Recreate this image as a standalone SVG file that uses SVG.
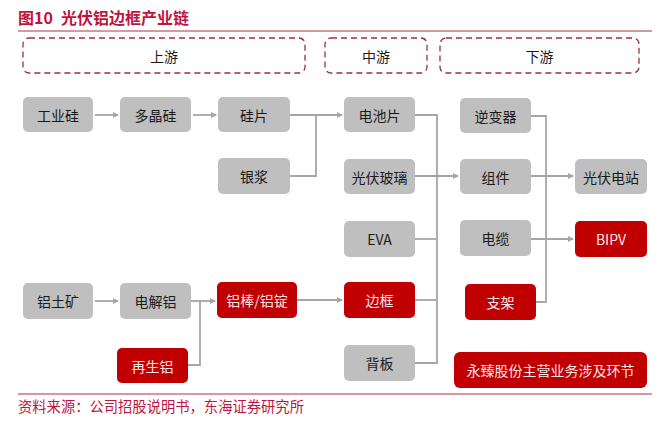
<svg xmlns="http://www.w3.org/2000/svg" width="664" height="423" viewBox="0 0 664 423">
<style>
text{font-family:"Noto Sans CJK SC","Liberation Sans",sans-serif;}
.g rect{fill:#bfbfbf;}
.r rect{fill:#c00000;}
.g text{fill:#1a1a1a;font-size:14px;text-anchor:middle;dominant-baseline:central;}
.r text{fill:#ffe6e6;font-size:14px;text-anchor:middle;dominant-baseline:central;}
.stage rect{fill:none;stroke:#9a3040;stroke-width:1.3;stroke-dasharray:6 4;}
.stage text{fill:#1a1a1a;font-size:14px;text-anchor:middle;dominant-baseline:central;}
#connectors path{fill:none;stroke:#a6a6a6;stroke-width:1.8;}
</style>
<defs>
<marker id="ah" markerWidth="6" markerHeight="6" refX="5" refY="3" orient="auto" markerUnits="userSpaceOnUse">
<path d="M0,0 L6,3 L0,6 z" fill="#a6a6a6"/>
</marker>
</defs>
<rect width="664" height="423" fill="#ffffff"/>
<text y="24" font-size="16" font-weight="bold" fill="#c0143c"><tspan x="18">图10</tspan><tspan x="61">光伏铝边框产业链</tspan></text>
<line x1="18" y1="31" x2="652" y2="31" stroke="#a83244" stroke-width="1"/>

<g id="stage-up" class="stage"><rect x="23" y="38" width="282" height="35" rx="6"/><text x="164" y="55.5">上游</text></g>
<g id="stage-mid" class="stage"><rect x="325" y="38" width="102" height="35" rx="6"/><text x="376" y="55.5">中游</text></g>
<g id="stage-down" class="stage"><rect x="440" y="38" width="199" height="35" rx="6"/><text x="539.5" y="55.5">下游</text></g>

<g id="connectors">
<path d="M95,115 H118" marker-end="url(#ah)"/>
<path d="M193,115 H216" marker-end="url(#ah)"/>
<path d="M290,115 H342" marker-end="url(#ah)"/>
<path d="M290,176 H316 V115"/>
<path d="M415,115 H437 V363 H415"/>
<path d="M415,176 H458" marker-end="url(#ah)"/>
<path d="M415,239 H437"/>
<path d="M415,300 H437"/>
<path d="M531,116 H546 V302 H536"/>
<path d="M531,176 H573" marker-end="url(#ah)"/>
<path d="M531,239 H573" marker-end="url(#ah)"/>
<path d="M95,301 H118" marker-end="url(#ah)"/>
<path d="M191,301 H215" marker-end="url(#ah)"/>
<path d="M188,365 H200 V301"/>
<path d="M297,300 H342" marker-end="url(#ah)"/>
</g>

<g id="n-gongyegui" class="g"><rect x="23" y="97" width="70" height="35" rx="5"/><text x="58" y="114.5">工业硅</text></g>
<g id="n-duojinggui" class="g"><rect x="120" y="97" width="71" height="35" rx="5"/><text x="155.5" y="114.5">多晶硅</text></g>
<g id="n-guipian" class="g"><rect x="218" y="97" width="72" height="35" rx="5"/><text x="254" y="114.5">硅片</text></g>
<g id="n-yinjiang" class="g"><rect x="218" y="158" width="72" height="36" rx="5"/><text x="254" y="176">银浆</text></g>
<g id="n-dianchipian" class="g"><rect x="344" y="97" width="71" height="35" rx="5"/><text x="379.5" y="114.5">电池片</text></g>
<g id="n-boli" class="g"><rect x="344" y="159" width="71" height="35" rx="5"/><text x="379.5" y="176.5">光伏玻璃</text></g>
<g id="n-eva" class="g"><rect x="344" y="221" width="71" height="36" rx="5"/><text x="379.5" y="239">EVA</text></g>
<g id="n-biankuang" class="r"><rect x="344" y="282" width="71" height="36" rx="5"/><text x="379.5" y="300">边框</text></g>
<g id="n-beiban" class="g"><rect x="344" y="345" width="71" height="36" rx="5"/><text x="379.5" y="363">背板</text></g>
<g id="n-nibianqi" class="g"><rect x="460" y="98" width="71" height="35" rx="5"/><text x="495.5" y="115.5">逆变器</text></g>
<g id="n-zujian" class="g"><rect x="460" y="159" width="71" height="35" rx="5"/><text x="495.5" y="176.5">组件</text></g>
<g id="n-dianlan" class="g"><rect x="460" y="220" width="71" height="36" rx="5"/><text x="495.5" y="238">电缆</text></g>
<g id="n-zhijia" class="r"><rect x="465" y="284" width="71" height="36" rx="5"/><text x="500.5" y="302">支架</text></g>
<g id="n-dianzhan" class="g"><rect x="575" y="159" width="72" height="35" rx="5"/><text x="611" y="176.5">光伏电站</text></g>
<g id="n-bipv" class="r"><rect x="575" y="221" width="72" height="36" rx="5"/><text x="611" y="239">BIPV</text></g>
<g id="n-lvtukuang" class="g"><rect x="23" y="283" width="70" height="36" rx="5"/><text x="58" y="301">铝土矿</text></g>
<g id="n-dianjielv" class="g"><rect x="120" y="283" width="71" height="36" rx="5"/><text x="155.5" y="301">电解铝</text></g>
<g id="n-lvbang" class="r"><rect x="217" y="282" width="80" height="36" rx="5"/><text x="257" y="300">铝棒/铝锭</text></g>
<g id="n-zaishenglv" class="r"><rect x="117" y="348" width="71" height="35" rx="5"/><text x="152.5" y="365.5">再生铝</text></g>
<g id="n-legend" class="r"><rect x="454" y="352" width="193" height="36" rx="6"/><text x="550.5" y="370">永臻股份主营业务涉及环节</text></g>

<line x1="18" y1="394" x2="652" y2="394" stroke="#a83244" stroke-width="1"/>
<text x="18" y="412" font-size="14.3" fill="#c0143c">资料来源：公司招股说明书，东海证券研究所</text>
</svg>
